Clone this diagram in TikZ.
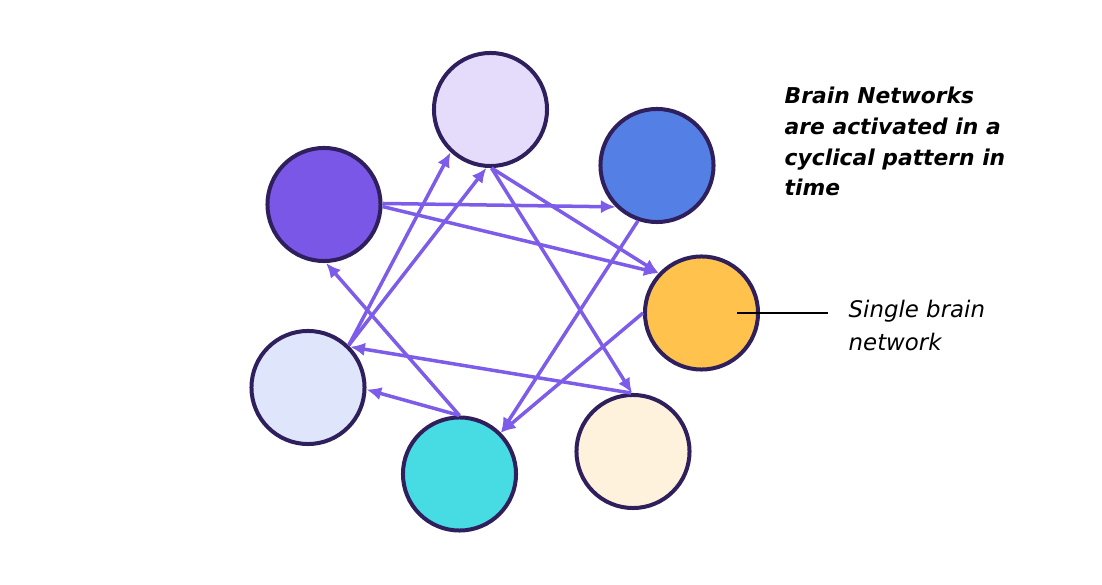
\documentclass[tikz,border=0pt]{standalone}
\usepackage{fontspec}
\setmainfont{DejaVu Sans}
\usetikzlibrary{arrows.meta}
\definecolor{edgecol}{HTML}{7C5CE8}
\definecolor{rimcol}{HTML}{2F1F5C}
\definecolor{ctop}{HTML}{E5DCFB}
\definecolor{cblue}{HTML}{5480E6}
\definecolor{cpurple}{HTML}{7B57E8}
\definecolor{corange}{HTML}{FFC34D}
\definecolor{clight}{HTML}{DFE5FA}
\definecolor{cteal}{HTML}{47DBE3}
\definecolor{ccream}{HTML}{FFF2DC}
\tikzset{
  netnode/.style={circle, draw=rimcol, line width=0.04cm, minimum size=1.13cm, inner sep=0pt},
  link/.style={draw=edgecol, line width=0.035cm, -{Latex[length=4.2pt,width=3.8pt]}},
  leader/.style={draw=black, line width=0.3pt},
  notetext/.style={anchor=base west, inner sep=0pt, align=left}
}
\begin{document}
\begin{tikzpicture}[x=0.01cm, y=-0.01cm]
\useasboundingbox (0,0) rectangle (1102,585);
\node[netnode, fill=ctop] (T) at (490.5,109.5) {};
\node[netnode, fill=cblue] (B) at (657,165.5) {};
\node[netnode, fill=cpurple] (P) at (324,204.5) {};
\node[netnode, fill=corange] (O) at (701.5,313) {};
\node[netnode, fill=clight] (L) at (308,387.5) {};
\node[netnode, fill=cteal] (C) at (459.5,474) {};
\node[netnode, fill=ccream] (M) at (633,451.5) {};
% connectors
\draw[link] (P.1) -- (B.225);
\draw[link] (P.358) -- (O.137);
\draw[link] (T.271) -- (O.137);
\draw[link] (T.271) -- (M.91);
\draw[link] (L.46) -- (T.227);
\draw[link] (L.46) -- (T.266);
\draw[link] (C.90) -- (L.358);
\draw[link] (C.90) -- (P.272);
\draw[link] (B.251) -- (C.45);
\draw[link] (O.180) -- (C.45);
\draw[link] (M.92) -- (L.44);
% annotations
\node[notetext, font=\fontsize{6.2}{8.8}\selectfont\bfseries\itshape] (N1) at (784,196)
  {Brain Networks\\are activated in a\\cyclical pattern in\\time};
\coordinate (Oin) at (737,313);
\coordinate (Lend) at (828,313);
\draw[leader] (Oin) -- (Lend);
\node[notetext, font=\fontsize{6.5}{9.4}\selectfont\itshape] (N2) at (848,351)
  {Single brain\\network};
\end{tikzpicture}
\end{document}
